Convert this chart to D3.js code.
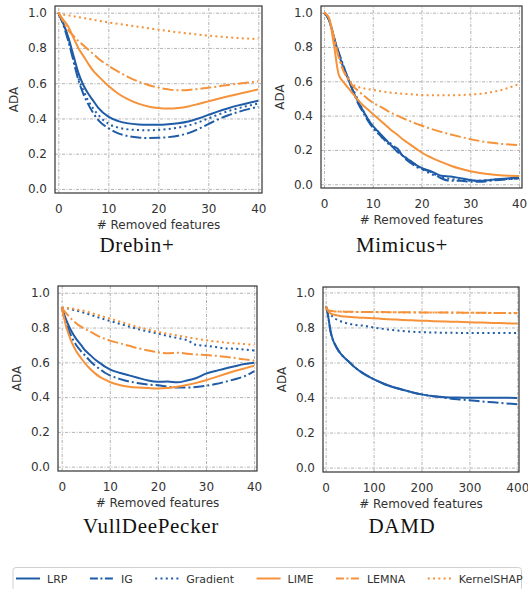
<!DOCTYPE html>
<html>
<head>
<meta charset="utf-8">
<script src="https://cdn.jsdelivr.net/npm/d3@7"></script>
<style>
  body { margin: 0; background: #fff; }
  svg { display: block; }
  .tick text { font-family: "DejaVu Sans", sans-serif; font-size: 12px; fill: #333; }
</style>
</head>
<body>
<div id="chart"></div>
<script>
// methods and styles
const methods = ["LRP", "IG", "Gradient", "LIME", "LEMNA", "KernelSHAP"];
const yTicks = [0.0, 0.2, 0.4, 0.6, 0.8, 1.0];
const xTicksSmall = [0, 10, 20, 30, 40];
const xTicksDamd = [0, 100, 200, 300, 400];

// Drebin+
const drebinX = [0, 1, 2, 3, 4, 5, 6, 7, 8, 10, 12, 14, 16, 18, 20, 22, 24, 26, 28, 30, 32, 34, 36, 38, 40];
const drebinLRP = [1.0, 0.94, 0.86, 0.76, 0.66, 0.59, 0.54, 0.50, 0.46, 0.41, 0.385, 0.372, 0.366, 0.364, 0.364, 0.367, 0.373, 0.383, 0.4, 0.42, 0.44, 0.458, 0.474, 0.488, 0.50];
const drebinIG = [1.0, 0.93, 0.84, 0.73, 0.62, 0.54, 0.48, 0.43, 0.39, 0.345, 0.315, 0.30, 0.292, 0.289, 0.29, 0.294, 0.302, 0.317, 0.34, 0.368, 0.395, 0.418, 0.437, 0.453, 0.467];
const drebinGradient = [1.0, 0.94, 0.85, 0.74, 0.63, 0.56, 0.50, 0.455, 0.42, 0.37, 0.348, 0.338, 0.334, 0.333, 0.335, 0.34, 0.348, 0.36, 0.378, 0.40, 0.422, 0.442, 0.458, 0.472, 0.485];
const drebinLIME = [1.0, 0.96, 0.92, 0.86, 0.80, 0.755, 0.71, 0.67, 0.64, 0.585, 0.54, 0.508, 0.484, 0.468, 0.459, 0.456, 0.459, 0.468, 0.482, 0.497, 0.512, 0.526, 0.539, 0.552, 0.565];
const drebinLEMNA = [1.0, 0.95, 0.90, 0.87, 0.84, 0.815, 0.79, 0.765, 0.74, 0.70, 0.665, 0.635, 0.61, 0.59, 0.575, 0.565, 0.56, 0.562, 0.567, 0.574, 0.582, 0.59, 0.597, 0.604, 0.61];
const drebinKernelSHAP = [1.0, 0.99, 0.985, 0.98, 0.975, 0.97, 0.965, 0.96, 0.955, 0.945, 0.937, 0.928, 0.92, 0.912, 0.904, 0.896, 0.889, 0.882, 0.876, 0.87, 0.865, 0.86, 0.856, 0.853, 0.85];

// Mimicus+
const mimicusX = [0, 1, 2, 3, 4, 5, 6, 7, 8, 9, 10, 11, 12, 13, 14, 15, 16, 17, 18, 19, 20, 22, 24, 26, 28, 30, 32, 34, 36, 38, 40];
const mimicusLRP = [1.0, 0.96, 0.86, 0.76, 0.68, 0.61, 0.54, 0.48, 0.43, 0.38, 0.34, 0.31, 0.28, 0.25, 0.22, 0.21, 0.17, 0.15, 0.13, 0.11, 0.095, 0.075, 0.05, 0.045, 0.035, 0.025, 0.02, 0.025, 0.03, 0.035, 0.04];
const mimicusIG = [1.0, 0.96, 0.86, 0.77, 0.69, 0.61, 0.54, 0.47, 0.42, 0.37, 0.33, 0.30, 0.27, 0.24, 0.22, 0.19, 0.17, 0.14, 0.12, 0.10, 0.09, 0.07, 0.035, 0.02, 0.02, 0.015, 0.015, 0.02, 0.025, 0.03, 0.035];
const mimicusGradient = [1.0, 0.96, 0.86, 0.77, 0.68, 0.62, 0.55, 0.49, 0.43, 0.38, 0.335, 0.30, 0.27, 0.25, 0.23, 0.20, 0.17, 0.15, 0.13, 0.11, 0.09, 0.06, 0.04, 0.03, 0.025, 0.02, 0.02, 0.025, 0.03, 0.03, 0.035];
const mimicusLIME = [1.0, 0.97, 0.82, 0.64, 0.595, 0.56, 0.525, 0.49, 0.46, 0.435, 0.41, 0.385, 0.36, 0.335, 0.31, 0.29, 0.265, 0.245, 0.225, 0.205, 0.185, 0.155, 0.13, 0.108, 0.09, 0.076, 0.066, 0.058, 0.053, 0.05, 0.048];
const mimicusLEMNA = [1.0, 0.97, 0.86, 0.74, 0.66, 0.61, 0.57, 0.545, 0.52, 0.497, 0.475, 0.46, 0.445, 0.428, 0.413, 0.40, 0.387, 0.375, 0.363, 0.352, 0.342, 0.322, 0.305, 0.29, 0.276, 0.263, 0.252, 0.243, 0.236, 0.231, 0.228];
const mimicusKernelSHAP = [1.0, 0.97, 0.86, 0.75, 0.665, 0.615, 0.58, 0.567, 0.56, 0.555, 0.55, 0.545, 0.54, 0.537, 0.533, 0.53, 0.528, 0.526, 0.524, 0.522, 0.52, 0.518, 0.518, 0.518, 0.52, 0.523, 0.527, 0.535, 0.547, 0.563, 0.585];

// VullDeePecker
const vulX = [0, 1, 2, 3, 4, 5, 6, 7, 8, 9, 10, 12, 14, 16, 18, 20, 22, 24, 26, 28, 30, 32, 34, 36, 38, 40];
const vulLRP = [0.915, 0.84, 0.78, 0.735, 0.70, 0.665, 0.64, 0.615, 0.595, 0.575, 0.56, 0.54, 0.525, 0.51, 0.495, 0.488, 0.49, 0.485, 0.495, 0.51, 0.535, 0.55, 0.565, 0.578, 0.59, 0.598];
const vulIG = [0.915, 0.82, 0.75, 0.70, 0.665, 0.635, 0.605, 0.58, 0.56, 0.54, 0.525, 0.505, 0.49, 0.48, 0.472, 0.468, 0.46, 0.455, 0.455, 0.458, 0.465, 0.475, 0.488, 0.503, 0.52, 0.55];
const vulGradient = [0.915, 0.912, 0.905, 0.898, 0.89, 0.882, 0.873, 0.864, 0.855, 0.846, 0.838, 0.822, 0.806, 0.79, 0.777, 0.765, 0.752, 0.74, 0.728, 0.70, 0.695, 0.688, 0.68, 0.678, 0.673, 0.668];
const vulLIME = [0.915, 0.80, 0.72, 0.665, 0.625, 0.59, 0.56, 0.535, 0.515, 0.50, 0.487, 0.47, 0.46, 0.455, 0.452, 0.45, 0.452, 0.46, 0.47, 0.482, 0.497, 0.515, 0.533, 0.55, 0.565, 0.58];
const vulLEMNA = [0.915, 0.88, 0.85, 0.825, 0.805, 0.79, 0.775, 0.76, 0.745, 0.735, 0.725, 0.71, 0.695, 0.68, 0.668, 0.658, 0.652, 0.655, 0.65, 0.645, 0.642, 0.638, 0.632, 0.625, 0.617, 0.61];
const vulKernelSHAP = [0.915, 0.913, 0.91, 0.905, 0.90, 0.893, 0.885, 0.877, 0.868, 0.86, 0.852, 0.835, 0.818, 0.802, 0.788, 0.775, 0.765, 0.755, 0.745, 0.735, 0.727, 0.72, 0.714, 0.709, 0.705, 0.70];

// DAMD
const damdX = [0, 3, 6, 10, 15, 20, 25, 30, 40, 50, 60, 80, 100, 120, 140, 160, 180, 200, 225, 250, 275, 300, 325, 350, 375, 400];
const damdLRP = [0.92, 0.90, 0.85, 0.78, 0.73, 0.70, 0.675, 0.655, 0.625, 0.60, 0.575, 0.535, 0.505, 0.48, 0.46, 0.445, 0.43, 0.418, 0.408, 0.402, 0.40, 0.399, 0.399, 0.399, 0.399, 0.398];
const damdIG = [0.92, 0.90, 0.85, 0.78, 0.73, 0.70, 0.675, 0.655, 0.625, 0.60, 0.575, 0.535, 0.505, 0.48, 0.46, 0.445, 0.43, 0.418, 0.408, 0.398, 0.39, 0.385, 0.378, 0.373, 0.367, 0.362];
const damdGradient = [0.92, 0.91, 0.89, 0.875, 0.86, 0.85, 0.843, 0.837, 0.827, 0.82, 0.815, 0.81, 0.80, 0.792, 0.785, 0.78, 0.776, 0.773, 0.771, 0.77, 0.769, 0.768, 0.768, 0.768, 0.768, 0.768];
const damdLIME = [0.92, 0.905, 0.89, 0.88, 0.875, 0.871, 0.868, 0.866, 0.862, 0.86, 0.858, 0.855, 0.852, 0.849, 0.846, 0.843, 0.841, 0.839, 0.836, 0.834, 0.832, 0.83, 0.828, 0.826, 0.824, 0.822];
const damdLEMNA = [0.92, 0.905, 0.898, 0.895, 0.893, 0.892, 0.891, 0.891, 0.89, 0.89, 0.889, 0.889, 0.888, 0.888, 0.887, 0.887, 0.887, 0.886, 0.886, 0.885, 0.885, 0.884, 0.884, 0.883, 0.882, 0.882];
const damdKernelSHAP = [0.915, 0.90, 0.895, 0.893, 0.892, 0.891, 0.89, 0.89, 0.889, 0.889, 0.888, 0.888, 0.888, 0.887, 0.887, 0.886, 0.886, 0.886, 0.885, 0.885, 0.884, 0.884, 0.883, 0.883, 0.882, 0.881];

const blue = "#1f5ca8";
const orange = "#f5923a";
const style = {
    LRP:        { color: blue,   dash: null },
    IG:         { color: blue,   dash: "11,3,2,3" },
    Gradient:   { color: blue,   dash: "2,3.3" },
    LIME:       { color: orange, dash: null },
    LEMNA:      { color: orange, dash: "11,3,2,3" },
    KernelSHAP: { color: orange, dash: "2,3.3" }
};

const panels = [
    { name: "Drebin+", x: drebinX, ticks: xTicksSmall, xdom: [-0.66, 40.74], ydom: [-0.023, 1.038],
      box: [55, 6, 207, 187], title: [137, 252],
      series: [drebinLRP, drebinIG, drebinGradient, drebinLIME, drebinLEMNA, drebinKernelSHAP] },
    { name: "Mimicus+", x: mimicusX, ticks: xTicksSmall, xdom: [-0.62, 40.6], ydom: [-0.022, 1.039],
      box: [321, 6, 201, 182], title: [402, 252],
      series: [mimicusLRP, mimicusIG, mimicusGradient, mimicusLIME, mimicusLEMNA, mimicusKernelSHAP] },
    { name: "VullDeePecker", x: vulX, ticks: xTicksSmall, xdom: [-0.77, 40.6], ydom: [-0.025, 1.039],
      box: [58, 286, 199, 185], title: [151, 533],
      series: [vulLRP, vulIG, vulGradient, vulLIME, vulLEMNA, vulKernelSHAP] },
    { name: "DAMD", x: damdX, ticks: xTicksDamd, xdom: [-5.6, 403.5], ydom: [-0.025, 1.031],
      box: [323, 287, 196, 185], title: [402, 533],
      series: [damdLRP, damdIG, damdGradient, damdLIME, damdLEMNA, damdKernelSHAP] }
];

const svg = d3.select("#chart").append("svg")
    .attr("width", 528)
    .attr("height", 589);

panels.forEach((p, pi) => {
    const [left, top, w, h] = p.box;
    const x = d3.scaleLinear().domain(p.xdom).range([0, w]);
    const y = d3.scaleLinear().domain(p.ydom).range([h, 0]);

    const g = svg.append("g").attr("transform", `translate(${left},${top})`);

    g.append("clipPath").attr("id", "clip" + pi)
        .append("rect").attr("width", w).attr("height", h);

    // grid
    g.append("g")
        .attr("transform", `translate(0,${h})`)
        .call(d3.axisBottom(x).tickValues(p.ticks).tickSize(-h).tickFormat(""))
        .call(s => s.select(".domain").remove())
        .selectAll("line").attr("stroke", "#aaa").attr("stroke-width", 0.9).attr("stroke-dasharray", "3,1.5,1,1.5");
    g.append("g")
        .call(d3.axisLeft(y).tickValues(yTicks).tickSize(-w).tickFormat(""))
        .call(s => s.select(".domain").remove())
        .selectAll("line").attr("stroke", "#aaa").attr("stroke-width", 0.9).attr("stroke-dasharray", "3,1.5,1,1.5");

    // tick labels
    g.append("g")
        .attr("transform", `translate(0,${h})`)
        .call(d3.axisBottom(x).tickValues(p.ticks).tickSize(0).tickPadding(11).tickFormat(d3.format("d")))
        .call(s => s.select(".domain").remove());
    g.append("g")
        .call(d3.axisLeft(y).tickValues(yTicks).tickSize(0).tickPadding(8).tickFormat(d3.format(".1f")))
        .call(s => s.select(".domain").remove());

    // lines
    const line = d3.line()
        .x((d, i) => x(p.x[i]))
        .y(d => y(d))
        .curve(d3.curveMonotoneX);

    const lines = g.append("g").attr("clip-path", `url(#clip${pi})`);
    methods.forEach((m, mi) => {
        lines.append("path")
            .datum(p.series[mi])
            .attr("fill", "none")
            .attr("stroke", style[m].color)
            .attr("stroke-width", 2)
            .attr("stroke-dasharray", style[m].dash)
            .attr("d", line);
    });

    // frame
    g.append("rect")
        .attr("width", w).attr("height", h)
        .attr("fill", "none")
        .attr("stroke", "#333")
        .attr("stroke-width", 1.2);

    // axis labels
    g.append("text")
        .attr("x", w / 2).attr("y", h + 36)
        .attr("text-anchor", "middle")
        .style("font-family", "DejaVu Sans, sans-serif")
        .style("font-size", "12px")
        .style("fill", "#333")
        .text("# Removed features");
    g.append("text")
        .attr("transform", `translate(-37,${h / 2}) rotate(-90)`)
        .attr("text-anchor", "middle")
        .style("font-family", "DejaVu Sans, sans-serif")
        .style("font-size", "12px")
        .style("fill", "#333")
        .text("ADA");

    // panel title
    svg.append("text")
        .attr("x", p.title[0]).attr("y", p.title[1])
        .attr("text-anchor", "middle")
        .style("font-family", "Liberation Serif, serif")
        .style("font-size", "21px")
        .style("letter-spacing", "0.7px")
        .style("fill", "#111")
        .text(p.name);
});

// legend
const legend = svg.append("g");
legend.append("rect")
    .attr("x", 13).attr("y", 567.5)
    .attr("width", 508.5).attr("height", 24)
    .attr("rx", 3)
    .attr("fill", "#fff")
    .attr("stroke", "#d0d0d0")
    .attr("stroke-width", 1);

let lx = 16;
methods.forEach(m => {
    legend.append("line")
        .attr("x1", lx).attr("x2", lx + 24)
        .attr("y1", 578.5).attr("y2", 578.5)
        .attr("stroke", style[m].color)
        .attr("stroke-width", 2)
        .attr("stroke-dasharray", style[m].dash ? (m === "Gradient" || m === "KernelSHAP" ? "2,3.3" : "8,2.5,2,2.5") : null);
    const t = legend.append("text")
        .attr("x", lx + 31).attr("y", 582.5)
        .style("font-family", "DejaVu Sans, sans-serif")
        .style("font-size", "11px")
        .style("fill", "#333")
        .text(m);
    lx += 31 + t.node().getComputedTextLength() + 22.5;
});
</script>
</body>
</html>
